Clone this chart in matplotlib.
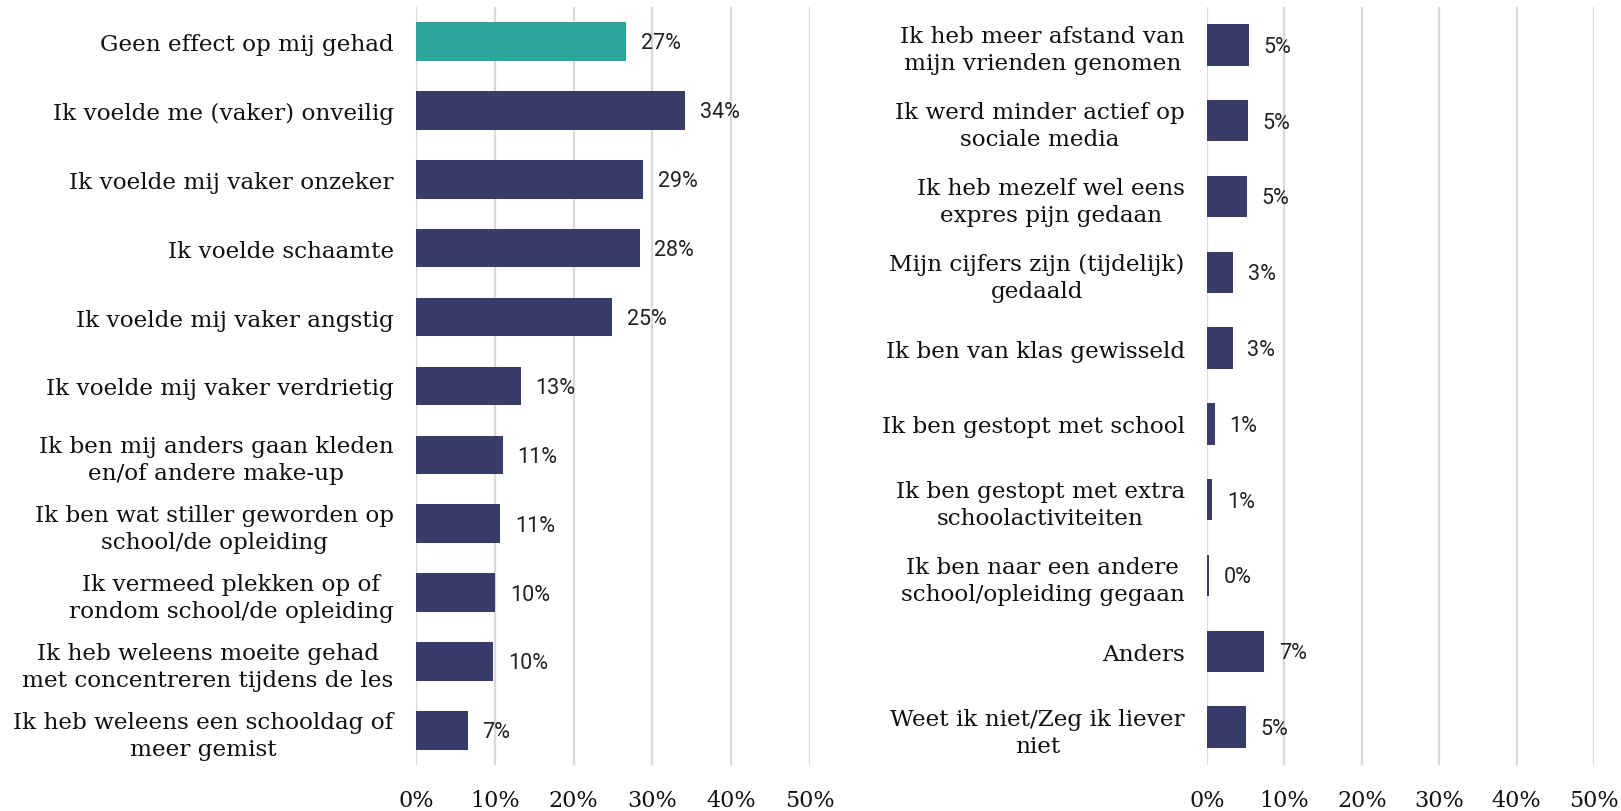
import matplotlib
matplotlib.use("Agg")
import matplotlib.pyplot as plt
from matplotlib.ticker import FuncFormatter

left_labels = [
    "Geen effect op mij gehad",
    "Ik voelde me (vaker) onveilig",
    "Ik voelde mij vaker onzeker",
    "Ik voelde schaamte",
    "Ik voelde mij vaker angstig",
    "Ik voelde mij vaker verdrietig",
    "Ik ben mij anders gaan kleden\nen/of andere make-up",
    "Ik ben wat stiller geworden op\nschool/de opleiding",
    "Ik vermeed plekken op of\nrondom school/de opleiding",
    "Ik heb weleens moeite gehad\nmet concentreren tijdens de les",
    "Ik heb weleens een schooldag of\nmeer gemist",
]
left_values = [26.7, 34.2, 28.8, 28.4, 24.9, 13.3, 11.0, 10.7, 10.05, 9.8, 6.6]
left_texts = ["27%", "34%", "29%", "28%", "25%", "13%", "11%", "11%", "10%", "10%", "7%"]

right_labels = [
    "Ik heb meer afstand van\nmijn vrienden genomen",
    "Ik werd minder actief op\nsociale media",
    "Ik heb mezelf wel eens\nexpres pijn gedaan",
    "Mijn cijfers zijn (tijdelijk)\ngedaald",
    "Ik ben van klas gewisseld",
    "Ik ben gestopt met school",
    "Ik ben gestopt met extra\nschoolactiviteiten",
    "Ik ben naar een andere\nschool/opleiding gegaan",
    "Anders",
    "Weet ik niet/Zeg ik liever\nniet",
]
right_values = [5.4, 5.3, 5.2, 3.4, 3.3, 1.0, 0.7, 0.3, 7.4, 5.0]
right_texts = ["5%", "5%", "5%", "3%", "3%", "1%", "1%", "0%", "7%", "5%"]

x_ticks = [0, 10, 20, 30, 40, 50]

TEAL = "#2aa69b"
NAVY = "#383c68"
GRID = "#d9d9d9"
LABEL_FONT = "DejaVu Serif"
VALUE_FONT = "Roboto"

fig = plt.figure(figsize=(16.21, 8.12), dpi=100)
ax1 = fig.add_axes([0.2566, 0.0567, 0.2431, 0.9335])
ax2 = fig.add_axes([0.7446, 0.0567, 0.2387, 0.9335])


def draw(ax, labels, values, texts, colors, height):
    n = len(labels)
    ys = list(range(n))
    ax.barh(ys, values, height=height, color=colors, zorder=3)
    ax.set_xlim(0, 50)
    ax.set_ylim(n - 0.5, -0.5)
    ax.set_yticks(ys)
    ax.set_yticklabels(labels, fontsize=16.7, family=LABEL_FONT,
                       multialignment="center", linespacing=1.3, color="#111111")
    ax.set_xticks(x_ticks)
    ax.xaxis.set_major_formatter(FuncFormatter(lambda v, p: f"{v:.0f}%"))
    for t in ax.get_xticklabels():
        t.set_fontsize(16)
        t.set_family(LABEL_FONT)
        t.set_color("#111111")
    ax.tick_params(axis="y", length=0, pad=16)
    ax.tick_params(axis="x", length=0, pad=17.5)
    ax.grid(axis="x", color=GRID, linewidth=1.6, zorder=0)
    for s in ax.spines.values():
        s.set_visible(False)
    for y, v, t in zip(ys, values, texts):
        ax.annotate(t, (v, y + 0.02), xytext=(10.5, 0), textcoords="offset points",
                    va="center", ha="left", fontsize=15.5, family=VALUE_FONT,
                    color="#222222")


draw(ax1, left_labels, left_values, left_texts,
     [TEAL] + [NAVY] * (len(left_values) - 1), 0.56)
draw(ax2, right_labels, right_values, right_texts,
     [NAVY] * len(right_values), 0.545)

fig.savefig("out.png", dpi=100, facecolor="white")
